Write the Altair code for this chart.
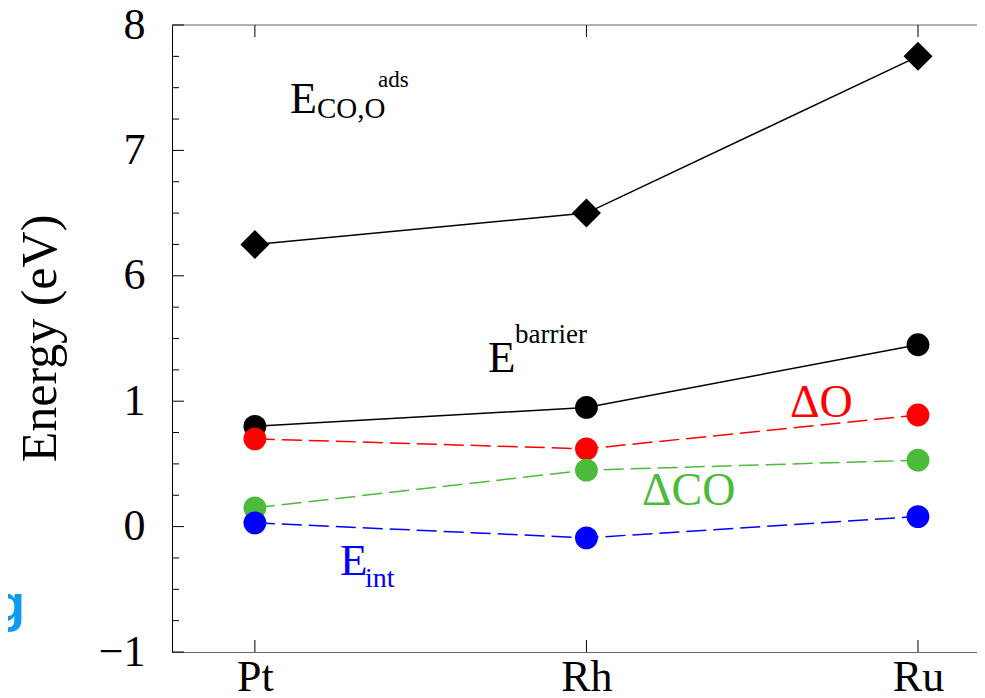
import altair as alt
import pandas as pd

# ---------------- data ----------------
metals = ["Pt", "Rh", "Ru"]
e_ads = [6.25, 6.50, 7.75]        # upper (broken) part of the axis
e_barrier = [0.80, 0.95, 1.45]
delta_o = [0.70, 0.62, 0.89]
delta_co = [0.15, 0.45, 0.53]
e_int = [0.03, -0.09, 0.08]

# axis positions; positions 2,3,4 carry the labels 6,7,8 (axis break of 4 eV)
y_major = [-1, 0, 1, 2, 3, 4]
y_minor = [-0.75, -0.5, -0.25, 0.25, 0.5, 0.75, 1.25, 1.5, 1.75,
           2.25, 2.5, 2.75, 3.25, 3.5, 3.75]
break_offset = 4
x_ticks = [0, 1, 2]
y_title = "Energy (eV)"

W, H = 805, 627
FONT = "Liberation Serif"

xs = alt.Scale(domain=[-0.25, 2.178], nice=False, zero=False)
ys = alt.Scale(domain=[-1, 4], nice=False, zero=False)

x_label_expr = "[" + ",".join("'%s'" % m for m in metals) + "][datum.value]"
y_label_expr = "datum.value >= 2 ? format(datum.value + %d, 'd') : datum.label" % break_offset

x_axis = alt.Axis(values=x_ticks, labelExpr=x_label_expr, labelFont=FONT,
                  labelFontSize=44, labelColor="black", labelPadding=38,
                  labelBaseline="alphabetic",
                  ticks=False, tickSize=0, grid=False, domain=True,
                  domainColor="#666666", domainWidth=1, title=None)
y_axis = alt.Axis(values=y_major, labelExpr=y_label_expr, labelFont=FONT,
                  labelFontSize=44, labelColor="black", labelPadding=27,
                  ticks=False, tickSize=0, grid=False, domain=True,
                  domainColor="black", domainWidth=1, title=None)


def X(field):
    return alt.X(field, type="quantitative", scale=xs, axis=x_axis)


def Y(field):
    return alt.Y(field, type="quantitative", scale=ys, axis=y_axis)


def series(vals, color, shape, size, dash=None, offset=0):
    df = pd.DataFrame({"i": x_ticks, "metal": metals, "value": vals})
    base = alt.Chart(df).transform_calculate(pos="datum.value - %s" % offset)
    line_kw = dict(color=color, strokeWidth=1.5)
    if dash:
        line_kw["strokeDash"] = dash
    line = base.mark_line(**line_kw).encode(x=X("i"), y=Y("pos"))
    pts = base.mark_point(shape=shape, filled=True, size=size, color=color,
                          opacity=1, strokeWidth=0).encode(x=X("i"), y=Y("pos"))
    return [line, pts]


layers = []

# frame and ticks
layers.append(alt.Chart(pd.DataFrame({"a": [0]})).mark_rule(color="#666666", strokeWidth=1)
              .encode(x=alt.value(0), x2=alt.value(W), y=alt.value(0)))
layers.append(alt.Chart(pd.DataFrame({"y": y_major})).mark_rule(color="black", strokeWidth=1)
              .encode(y=Y("y"), x=alt.value(0), x2=alt.value(12)))
layers.append(alt.Chart(pd.DataFrame({"y": y_minor})).mark_rule(color="black", strokeWidth=1)
              .encode(y=Y("y"), x=alt.value(0), x2=alt.value(7)))
layers.append(alt.Chart(pd.DataFrame({"x": x_ticks})).mark_rule(color="black", strokeWidth=1)
              .encode(x=X("x"), y=alt.value(0), y2=alt.value(12)))
layers.append(alt.Chart(pd.DataFrame({"x": x_ticks})).mark_rule(color="black", strokeWidth=1)
              .encode(x=X("x"), y=alt.value(H - 12), y2=alt.value(H)))

# series
layers += series(e_ads, "black", "diamond", 841, offset=break_offset)
layers += series(e_barrier, "black", "circle", 520)
layers += series(delta_o, "#ff0000", "circle", 520, dash=[20, 7])
layers += series(delta_co, "#4cbb3c", "circle", 520, dash=[20, 7])
layers += series(e_int, "#0000ff", "circle", 520, dash=[20, 7])

# y-axis title as rotated text
layers.append(alt.Chart(pd.DataFrame({"t": [y_title]}))
              .mark_text(align="center", baseline="alphabetic", font=FONT,
                         fontSize=50, color="black", angle=270)
              .encode(text="t:N", x=alt.value(-116), y=alt.value(H / 2)))

# annotations (text, x, y baseline, size, colour)
annotations = [
    ("E", 118, 88, 44, "black"),
    ("CO,O", 145, 93, 29, "black"),
    ("ads", 206, 62, 23, "black"),
    ("E", 316, 347, 45, "black"),
    ("barrier", 343, 318, 27, "black"),
    ("\u0394O", 618, 392, 46, "#ff0000"),
    ("\u0394CO", 470, 480, 46, "#4cbb3c"),
    ("E", 168, 550, 45, "#0000ff"),
    ("int", 193, 562, 28, "#0000ff"),
]
for t, x, y, s, c in annotations:
    layers.append(alt.Chart(pd.DataFrame({"t": [t]}))
                  .mark_text(align="left", baseline="alphabetic", font=FONT,
                             fontSize=s, color=c)
                  .encode(text="t:N", x=alt.value(x), y=alt.value(y)))

# stray cropped letter at the left edge
layers.append(alt.Chart(pd.DataFrame({"t": ["g"]}))
              .mark_text(align="right", baseline="alphabetic", font="Liberation Sans",
                         fontWeight="bold", fontSize=52, color="#0f9af0")
              .encode(text="t:N", x=alt.value(-147), y=alt.value(596)))

chart = alt.layer(*layers).properties(
    width=W, height=H,
    autosize=alt.AutoSizeParams(type="none"),
    padding={"left": 164, "top": 17, "right": 0, "bottom": 46},
).configure_view(strokeWidth=0)

chart.save("out.html", embed_options={"renderer": "svg", "actions": False})
